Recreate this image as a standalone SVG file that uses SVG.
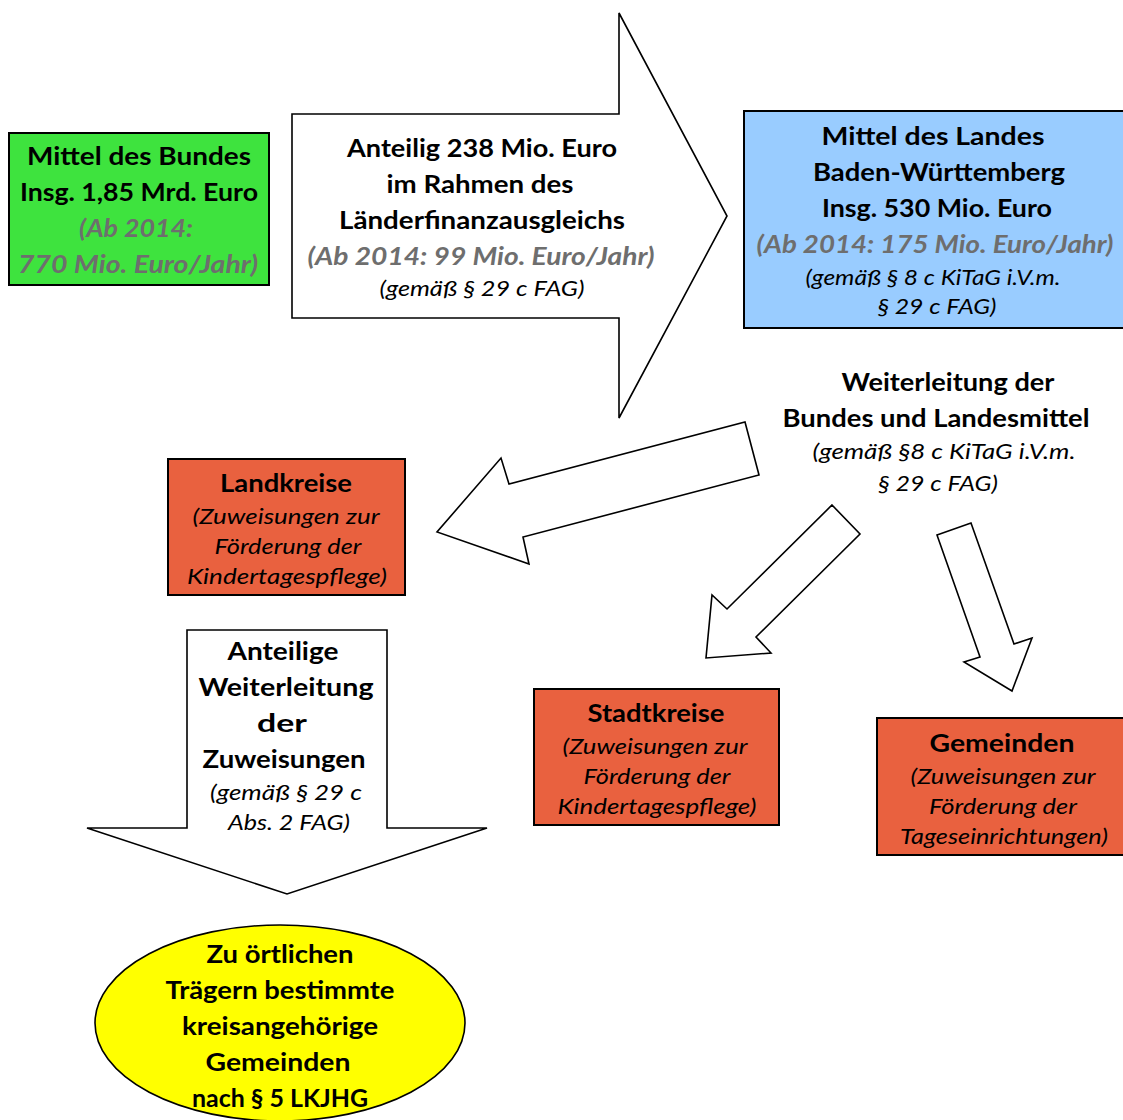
<svg xmlns="http://www.w3.org/2000/svg" width="1123" height="1120" viewBox="0 0 1123 1120">
<style>
.box{stroke:#000;stroke-width:2}
.arrow{fill:#fff;stroke:#000;stroke-width:1.6;stroke-linejoin:miter}
text{font-family:Lato,"Open Sans","Liberation Sans",sans-serif;text-anchor:middle;fill:#000}
.b{font-weight:bold;font-size:25px}
.g{font-weight:bold;font-style:italic;font-size:25px;fill:#6e6e6e}
.i{font-style:italic;font-size:22px}
</style>
<rect width="1123" height="1120" fill="#fff"/>
<g id="connectors">
<polygon class="arrow" points="745,422 759,475 523,537 529,564 437,532 501,458 509,484"/>
<polygon class="arrow" points="832,505 860,534 756,637 771,653 706,658 712,595 727,609"/>
<polygon class="arrow" points="937,535 971,523 1014,644 1032,638 1012,691 964,662 980,657"/>
</g>
<g id="bund">
<rect class="box" x="9" y="133" width="260" height="152" fill="#3ee33e"/>
<text class="b" x="139" y="165" textLength="224" lengthAdjust="spacingAndGlyphs">Mittel des Bundes</text>
<text class="b" x="139" y="201" textLength="238" lengthAdjust="spacingAndGlyphs">Insg. 1,85 Mrd. Euro</text>
<text class="g" x="136" y="237" textLength="114" lengthAdjust="spacingAndGlyphs">(Ab 2014:</text>
<text class="g" x="138" y="273" textLength="240" lengthAdjust="spacingAndGlyphs">770 Mio. Euro/Jahr)</text>
</g>
<g id="laenderfinanzausgleich">
<polygon class="arrow" points="292,114 619,114 619,13 727,216 619,418 619,318 292,318"/>
<text class="b" x="482" y="157" textLength="270" lengthAdjust="spacingAndGlyphs">Anteilig 238 Mio. Euro</text>
<text class="b" x="480" y="193" textLength="187" lengthAdjust="spacingAndGlyphs">im Rahmen des</text>
<text class="b" x="482" y="229" textLength="286" lengthAdjust="spacingAndGlyphs">Länderfinanzausgleichs</text>
<text class="g" x="481" y="265" textLength="347" lengthAdjust="spacingAndGlyphs">(Ab 2014: 99 Mio. Euro/Jahr)</text>
<text class="i" x="482" y="296" textLength="205" lengthAdjust="spacingAndGlyphs">(gemäß § 29 c FAG)</text>
</g>
<g id="land">
<rect class="box" x="744" y="111" width="390" height="217" fill="#99ccff"/>
<text class="b" x="933" y="145" textLength="223" lengthAdjust="spacingAndGlyphs">Mittel des Landes</text>
<text class="b" x="939" y="181" textLength="252" lengthAdjust="spacingAndGlyphs">Baden-Württemberg</text>
<text class="b" x="937" y="217" textLength="230" lengthAdjust="spacingAndGlyphs">Insg. 530 Mio. Euro</text>
<text class="g" x="935" y="253" textLength="357" lengthAdjust="spacingAndGlyphs">(Ab 2014: 175 Mio. Euro/Jahr)</text>
<text class="i" x="933" y="285" textLength="255" lengthAdjust="spacingAndGlyphs">(gemäß § 8 c KiTaG i.V.m.</text>
<text class="i" x="937" y="314" textLength="119" lengthAdjust="spacingAndGlyphs">§ 29 c FAG)</text>
</g>
<g id="weiterleitung">
<text class="b" x="948" y="391" textLength="213" lengthAdjust="spacingAndGlyphs">Weiterleitung der</text>
<text class="b" x="936" y="427" textLength="307" lengthAdjust="spacingAndGlyphs">Bundes und Landesmittel</text>
<text class="i" x="944" y="459" textLength="263" lengthAdjust="spacingAndGlyphs">(gemäß §8 c KiTaG i.V.m.</text>
<text class="i" x="938" y="491" textLength="120" lengthAdjust="spacingAndGlyphs">§ 29 c FAG)</text>
</g>
<g id="landkreise">
<rect class="box" x="168" y="459" width="237" height="136" fill="#e9613f"/>
<text class="b" x="286" y="492" textLength="132" lengthAdjust="spacingAndGlyphs">Landkreise</text>
<text class="i" x="286" y="524" textLength="187" lengthAdjust="spacingAndGlyphs">(Zuweisungen zur</text>
<text class="i" x="288" y="554" textLength="147" lengthAdjust="spacingAndGlyphs">Förderung der</text>
<text class="i" x="287" y="584" textLength="200" lengthAdjust="spacingAndGlyphs">Kindertagespflege)</text>
</g>
<g id="stadtkreise">
<rect class="box" x="534" y="689" width="245" height="136" fill="#e9613f"/>
<text class="b" x="656" y="722" textLength="137" lengthAdjust="spacingAndGlyphs">Stadtkreise</text>
<text class="i" x="655" y="754" textLength="185" lengthAdjust="spacingAndGlyphs">(Zuweisungen zur</text>
<text class="i" x="657" y="784" textLength="147" lengthAdjust="spacingAndGlyphs">Förderung der</text>
<text class="i" x="657" y="814" textLength="199" lengthAdjust="spacingAndGlyphs">Kindertagespflege)</text>
</g>
<g id="gemeinden">
<rect class="box" x="877" y="718" width="260" height="137" fill="#e9613f"/>
<text class="b" x="1002" y="752" textLength="145" lengthAdjust="spacingAndGlyphs">Gemeinden</text>
<text class="i" x="1003" y="784" textLength="185" lengthAdjust="spacingAndGlyphs">(Zuweisungen zur</text>
<text class="i" x="1003" y="814" textLength="148" lengthAdjust="spacingAndGlyphs">Förderung der</text>
<text class="i" x="1004" y="844" textLength="208" lengthAdjust="spacingAndGlyphs">Tageseinrichtungen)</text>
</g>
<g id="anteilige-weiterleitung">
<polygon class="arrow" points="187,630 387,630 387,828 487,828 287,894 87,828 187,828"/>
<text class="b" x="283" y="660" textLength="111" lengthAdjust="spacingAndGlyphs">Anteilige</text>
<text class="b" x="286" y="696" textLength="175" lengthAdjust="spacingAndGlyphs">Weiterleitung</text>
<text class="b" x="282" y="732" textLength="50" lengthAdjust="spacingAndGlyphs">der</text>
<text class="b" x="284" y="768" textLength="163" lengthAdjust="spacingAndGlyphs">Zuweisungen</text>
<text class="i" x="286" y="800" textLength="152" lengthAdjust="spacingAndGlyphs">(gemäß § 29 c</text>
<text class="i" x="289" y="830" textLength="122" lengthAdjust="spacingAndGlyphs">Abs. 2 FAG)</text>
</g>
<g id="traeger">
<ellipse cx="280" cy="1023" rx="185" ry="98" fill="#ffff00" stroke="#000" stroke-width="1.6"/>
<text class="b" x="280" y="963" textLength="147" lengthAdjust="spacingAndGlyphs">Zu örtlichen</text>
<text class="b" x="280" y="999" textLength="229" lengthAdjust="spacingAndGlyphs">Trägern bestimmte</text>
<text class="b" x="280" y="1035" textLength="196" lengthAdjust="spacingAndGlyphs">kreisangehörige</text>
<text class="b" x="278" y="1071" textLength="145" lengthAdjust="spacingAndGlyphs">Gemeinden</text>
<text class="b" x="280" y="1107" textLength="176" lengthAdjust="spacingAndGlyphs">nach § 5 LKJHG</text>
</g>
</svg>
